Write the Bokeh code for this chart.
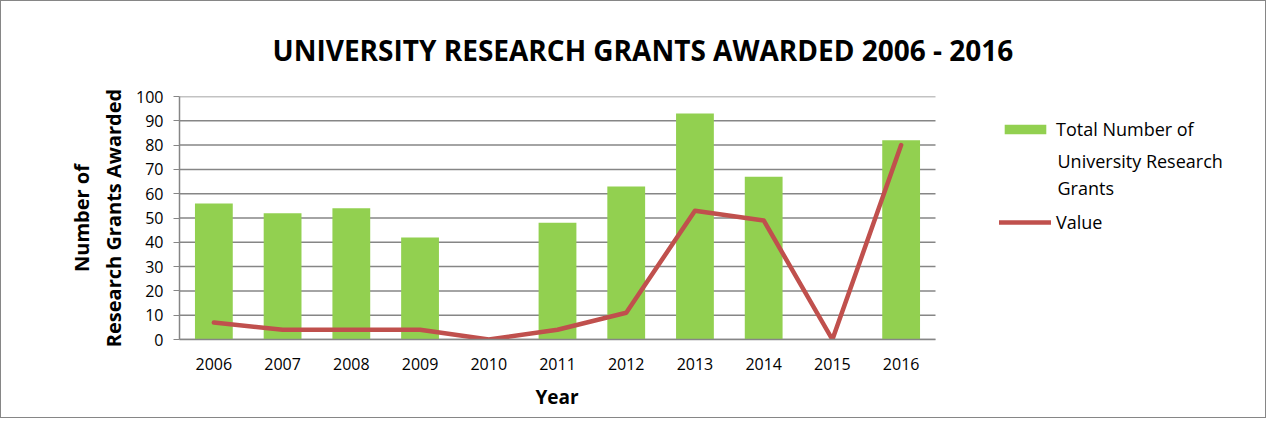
from bokeh.plotting import figure
from bokeh.models import Legend, LegendItem, Label, FixedTicker, ColumnDataSource, Range1d, Title
from bokeh.embed import file_html
from bokeh.resources import INLINE

years = ["2006", "2007", "2008", "2009", "2010", "2011", "2012", "2013", "2014", "2015", "2016"]
total_grants = [56, 52, 54, 42, 0, 48, 63, 93, 67, 0, 82]
value_series = [7, 4, 4, 4, 0, 4, 11, 53, 49, 0, 80]
y_ticks = [0, 10, 20, 30, 40, 50, 60, 70, 80, 90, 100]

FONT = "Open Sans"
GRID = "#868686"

n = len(years)
xpos = [i + 0.5 for i in range(n)]
src = ColumnDataSource(dict(x=xpos, year=years, total=total_grants, val=value_series))
grid_src = ColumnDataSource(dict(y=y_ticks, x0=[0] * len(y_ticks), x1=[n] * len(y_ticks)))

W, H = 1266, 418
ML, MR = 178, 5
frame_w = (W - ML - MR)
cat_px = 756 / n  # pixel width of one category slot
x_end = frame_w / cat_px

p = figure(width=W, height=H, x_range=Range1d(0, x_end), y_range=Range1d(0, 100),
           output_backend="svg", toolbar_location=None,
           title="UNIVERSITY RESEARCH GRANTS AWARDED 2006 - 2016",
           min_border_left=ML, min_border_right=MR, min_border_top=95, min_border_bottom=80)
p.styles = {"border": "1px solid #868686", "box-sizing": "border-box"}
p.outline_line_color = None
p.background_fill_color = "white"
p.border_fill_color = "white"

p.title.text_font = FONT
p.title.text_font_style = "bold"
p.title.text_font_size = "28px"
p.title.text_color = "#000000"
p.title.align = "left"
p.title.offset = 93
p.title.standoff = 55

# gridlines (limited to the category area)
p.segment(x0="x0", x1="x1", y0="y", y1="y", source=grid_src, line_color=GRID, line_width=1.5)

bars = p.vbar(x="x", top="total", width=0.55, source=src, fill_color="#92D050", line_color=None)
line = p.line(x="x", y="val", source=src, line_color="#C0504D", line_width=4.5,
              line_cap="round", line_join="round")

# axes
p.yaxis.ticker = FixedTicker(ticks=y_ticks)
p.yaxis.minor_tick_line_color = None
p.yaxis.major_tick_out = 6
p.yaxis.major_tick_in = 0
p.yaxis.major_tick_line_color = GRID
p.yaxis.axis_line_color = GRID
p.yaxis.axis_line_width = 1.5
p.yaxis.major_label_text_font = FONT
p.yaxis.major_label_text_font_size = "16px"
p.yaxis.major_label_text_color = "#000000"
p.yaxis.major_label_standoff = 10
p.yaxis.axis_label = "Number of\nResearch Grants Awarded"
p.yaxis.axis_label_text_font = FONT
p.yaxis.axis_label_text_font_style = "bold"
p.yaxis.axis_label_text_font_size = "20px"
p.yaxis.axis_label_text_color = "#000000"
p.yaxis.axis_label_standoff = 6

p.xaxis.ticker = FixedTicker(ticks=xpos)
p.xaxis.major_label_overrides = {x: y for x, y in zip(xpos, years)}
p.xaxis.bounds = (0, n)
p.xaxis.major_tick_line_color = None
p.xaxis.minor_tick_line_color = None
p.xaxis.axis_line_color = GRID
p.xaxis.axis_line_width = 1.5
p.xaxis.major_label_text_font = FONT
p.xaxis.major_label_text_font_size = "16px"
p.xaxis.major_label_text_color = "#000000"
p.xaxis.major_label_standoff = 12

# x axis title, centred under the category area
p.add_layout(Title(text="Year", align="left", offset=356, standoff=18,
                   text_font=FONT, text_font_style="bold", text_font_size="19px",
                   text_color="#000000"), "below")

p.xgrid.grid_line_color = None
p.ygrid.grid_line_color = None

# legend
legend = Legend(items=[
    LegendItem(label="Total Number of", renderers=[bars]),
    LegendItem(label="Value", renderers=[line]),
], location=(820, 105), orientation="vertical")
legend.label_text_font = FONT
legend.label_text_font_size = "18px"
legend.label_text_color = "#000000"
legend.label_height = 20
legend.glyph_width = 52
legend.glyph_height = 12
legend.label_standoff = 5
legend.spacing = 69
legend.padding = 0
legend.margin = 0
legend.border_line_color = None
legend.background_fill_alpha = 0
p.add_layout(legend, "center")

for txt, yy in [("University Research", 179), ("Grants", 152)]:
    p.add_layout(Label(x=878, y=yy, x_units="screen", y_units="screen", text=txt,
                       text_font=FONT, text_font_size="18px", text_color="#000000",
                       text_align="left", text_baseline="middle"))

open("out.html", "w").write(file_html(p, INLINE))
